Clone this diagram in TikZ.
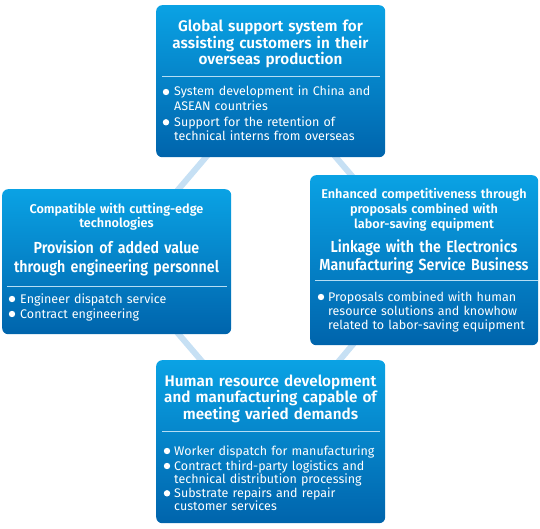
\documentclass[tikz,border=0pt]{standalone}
\usepackage{fontspec}
\setmainfont{Fira Sans}[BoldFont={Fira Sans SemiBold}]
\newfontfamily\condfont{Fira Sans}[BoldFont={Fira Sans SemiBold},FakeStretch=0.89]
\usetikzlibrary{backgrounds}
\definecolor{boxtop}{HTML}{0AA2E4}
\definecolor{boxbot}{HTML}{0064AC}
\definecolor{linkc}{HTML}{C6E0F4}
\definecolor{sepc}{HTML}{B5DDF4}
\tikzset{
  panel/.style={rounded corners=6pt, top color=boxtop, bottom color=boxbot, draw=none, inner sep=0pt, anchor=north west},
  link/.style={draw=linkc, line width=6pt},
  sepline/.style={draw=sepc, line width=0.9pt},
  ttl/.style={text=white, align=center, anchor=base, inner sep=0pt, text width=#1},
  itm/.style={text=white, align=left, anchor=base west, inner sep=0pt, text width=#1, font=\fontsize{12.5}{14.3}\selectfont},
  dot/.style={fill=white},
}
\begin{document}
\begin{tikzpicture}[x=1pt,y=-1pt]
\useasboundingbox (0,0) rectangle (540,529);
% panels
\node[panel, minimum width=229, minimum height=152] (top) at (156,5) {};
\node[panel, minimum width=229, minimum height=145] (left) at (2,189) {};
\node[panel, minimum width=228, minimum height=170] (right) at (310,175) {};
\node[panel, minimum width=229, minimum height=163] (bottom) at (156,360) {};
% connectors
\begin{scope}[on background layer]
\draw[link] (top.center) -- (left.center) -- (bottom.center) -- (right.center) -- (top.center) -- cycle;
\end{scope}
% top panel
\node[ttl=225, font=\bfseries\fontsize{15.3}{16.5}\selectfont] (toptitle) at (270.5,32)
  {Global support system for\\assisting customers in their\\overseas production};
\draw[sepline] (162,76) -- (380,76);
\fill[dot] (166,92) circle (3.2pt);
\node[itm=215] (topi1) at (174,96) {System development in China and\\ASEAN countries};
\fill[dot] (166,122.3) circle (3.2pt);
\node[itm=215] (topi2) at (174,126.3) {Support for the retention of\\technical interns from overseas};
% left panel
\node[ttl=225, font=\bfseries\fontsize{12.7}{13.5}\selectfont] (leftsub) at (116.5,214)
  {Compatible with cutting-edge\\technologies};
\node[ttl=228, font=\condfont\bfseries\fontsize{16}{19}\selectfont] (lefttitle) at (116.5,253)
  {Provision of added value\\through engineering personnel};
\draw[sepline] (7,286) -- (227,286);
\fill[dot] (12,299) circle (3.2pt);
\node[itm=210] (lefti1) at (20,303) {Engineer dispatch service};
\fill[dot] (12,314) circle (3.2pt);
\node[itm=210] (lefti2) at (20,318) {Contract engineering};
% right panel
\node[ttl=228, font=\bfseries\fontsize{12.7}{15}\selectfont] (rightsub) at (424,199)
  {Enhanced competitiveness through\\proposals combined with\\labor-saving equipment};
\node[ttl=228, font=\condfont\bfseries\fontsize{16}{18}\selectfont] (righttitle) at (424,252)
  {Linkage with the Electronics\\Manufacturing Service Business};
\draw[sepline] (315,280) -- (538,280);
\fill[dot] (321,297) circle (3.2pt);
\node[itm=210] (righti1) at (328,301)
  {Proposals combined with human\\resource solutions and knowhow\\related to labor-saving equipment};
% bottom panel
\node[ttl=228, font=\bfseries\fontsize{15.3}{16.5}\selectfont] (bottomtitle) at (270.5,386)
  {Human resource development\\and manufacturing capable of\\meeting varied demands};
\draw[sepline] (162,431) -- (380,431);
\fill[dot] (167,451) circle (3.2pt);
\node[itm=215, font=\fontsize{12.5}{13.5}\selectfont] (boti1) at (174,455) {Worker dispatch for manufacturing};
\fill[dot] (167,466) circle (3.2pt);
\node[itm=215, font=\fontsize{12.5}{13.5}\selectfont] (boti2) at (174,470) {Contract third-party logistics and\\technical distribution processing};
\fill[dot] (167,493.3) circle (3.2pt);
\node[itm=215, font=\fontsize{12.5}{13.5}\selectfont] (boti3) at (174,497.3) {Substrate repairs and repair\\customer services};
\end{tikzpicture}
\end{document}
